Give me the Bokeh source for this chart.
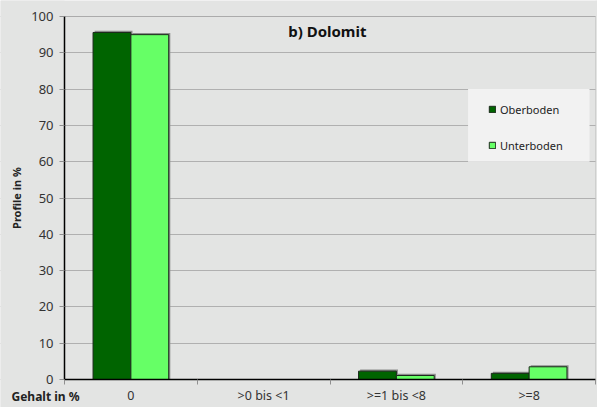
import numpy as np
from bokeh.plotting import figure
from bokeh.models import (ColumnDataSource, Range1d, FixedTicker, CustomJSTickFormatter,
                          Label, Legend, LegendItem, BoxAnnotation)
from bokeh.transform import dodge
from bokeh.embed import file_html
from bokeh.resources import INLINE

# ---- data ----
categories = ["0", ">0 bis <1", ">=1 bis <8", ">=8"]
oberboden = [95.6, 0.0, 2.3, 1.7]
unterboden = [95.0, 0.0, 1.1, 3.5]
y_ticks = [0, 10, 20, 30, 40, 50, 60, 70, 80, 90, 100]

title_text = "b) Dolomit"
y_label = "Profile in %"
x_label = "Gehalt in %"

FONT = "Noto Sans"
BG = "#e3e4e3"
DARK = "#006400"
LIGHT = "#66ff66"

n = len(categories)
xpos = list(np.arange(n) + 0.5)
# shadows are only drawn under non-empty bars
ober_sh = [v if v > 0 else float("nan") for v in oberboden]
unter_sh = [v if v > 0 else float("nan") for v in unterboden]
src = ColumnDataSource(dict(x=xpos, ober=oberboden, unter=unterboden,
                            ober_sh=ober_sh, unter_sh=unter_sh))

# The frame covers the whole canvas; the axes are pinned at x=0 / y=0 so that
# texts left of and below the plot area stay inside the drawable region.
W, H = 597, 407
PL, PR, PT, PB = 64, 595, 16, 379          # plot-area edges in pixels
sx = (PR - PL) / n
sy = (PB - PT) / 100.0
x_range = Range1d(-PL / sx, n + (W - PR) / sx)
y_range = Range1d(-(H - PB) / sy, 100 + PT / sy)

p = figure(width=W, height=H, output_backend="svg", toolbar_location=None,
           x_range=x_range, y_range=y_range, frame_width=W, frame_height=H,
           min_border=0, min_border_left=0, min_border_right=0,
           min_border_top=0, min_border_bottom=0)

p.background_fill_color = BG
p.border_fill_color = BG
p.outline_line_color = None

# legend background box (spans 60..80 on y)
p.add_layout(BoxAnnotation(left=3.04, right=3.955, bottom=60, top=80,
                           fill_color="#f2f2f2", fill_alpha=1.0, line_color=None, level="underlay"))

bw = 0.285
off = 0.1425
# shadows
for field, d in (("ober_sh", -off), ("unter_sh", off)):
    p.vbar(x=dodge("x", d + 0.012, range=p.x_range), top=dodge(field, 0.45), width=bw, bottom=0,
           source=src, fill_color="#8c8c8c", line_color=None)
r1 = p.vbar(x=dodge("x", -off, range=p.x_range), top="ober", width=bw, source=src,
            fill_color=DARK, line_color="#1c2a1c", line_width=1)
r2 = p.vbar(x=dodge("x", off, range=p.x_range), top="unter", width=bw, source=src,
            fill_color=LIGHT, line_color="#1c2a1c", line_width=1)

# grid
p.xgrid.grid_line_color = None
p.ygrid.grid_line_color = "#b0b0b0"
p.ygrid.ticker = FixedTicker(ticks=y_ticks)

# cover the grid lines outside the plot area
p.add_layout(BoxAnnotation(right=0, fill_color=BG, fill_alpha=1.0, line_color=None, level="glyph"))
p.add_layout(BoxAnnotation(left=n, fill_color=BG, fill_alpha=1.0, line_color=None, level="glyph"))
# plot-area border (top/right visible; left/bottom under the axes)
p.add_layout(BoxAnnotation(left=0, right=n, bottom=0, top=100, fill_alpha=0,
                           line_color="#a0a0a0", line_width=1, level="glyph"))

# y axis
ya = p.yaxis[0]
ya.fixed_location = 0
ya.bounds = (0, 100)
ya.ticker = FixedTicker(ticks=y_ticks)
ya.axis_line_color = "black"
ya.axis_line_width = 1.5
ya.major_tick_line_color = "#909090"
ya.major_tick_out = 5
ya.major_tick_in = 0
ya.minor_tick_line_color = None
ya.major_label_text_font = FONT
ya.major_label_text_font_size = "13px"
ya.major_label_text_color = "#333333"
ya.major_label_standoff = 6
ya.axis_label = y_label
ya.axis_label_text_font = FONT
ya.axis_label_text_font_style = "bold"
ya.axis_label_text_font_size = "11px"
ya.axis_label_text_color = "#222222"
ya.axis_label_standoff = 4

# x axis
xa = p.xaxis[0]
xa.fixed_location = 0
xa.bounds = (0, n)
xa.ticker = FixedTicker(ticks=xpos, minor_ticks=list(range(n + 1)))
xa.formatter = CustomJSTickFormatter(args=dict(labels=categories),
                                     code="return labels[Math.floor(tick)];")
xa.axis_line_color = "black"
xa.axis_line_width = 1.5
xa.major_tick_line_color = None
xa.major_tick_out = 0
xa.major_tick_in = 0
xa.minor_tick_line_color = "#909090"
xa.minor_tick_out = 5
xa.minor_tick_in = 0
xa.major_label_text_font = FONT
xa.major_label_text_font_size = "12.5px"
xa.major_label_text_color = "#333333"
xa.major_label_standoff = 2

# title inside plot
p.add_layout(Label(x=1.98, y=96.0, text=title_text, text_align="center", text_baseline="alphabetic",
                   text_font=FONT, text_font_style="bold", text_font_size="15px", text_color="#111111"))

# x label at left bottom
p.add_layout(Label(x=(11 - PL) / sx, y=-(396 - PB) / sy, text=x_label,
                   text_align="left", text_baseline="middle",
                   text_font=FONT, text_font_style="bold", text_font_size="12px", text_color="#222222"))

legend = Legend(items=[LegendItem(label="Oberboden", renderers=[r1]),
                       LegendItem(label="Unterboden", renderers=[r2])],
                location=(488, H - 153), orientation="vertical",
                padding=0, margin=0, spacing=20, label_height=16,
                glyph_width=8, glyph_height=8, label_standoff=4,
                background_fill_alpha=0, border_line_color=None,
                label_text_font=FONT, label_text_font_size="11px", label_text_color="#222222")
p.add_layout(legend)

open("out.html", "w").write(file_html(p, INLINE))
